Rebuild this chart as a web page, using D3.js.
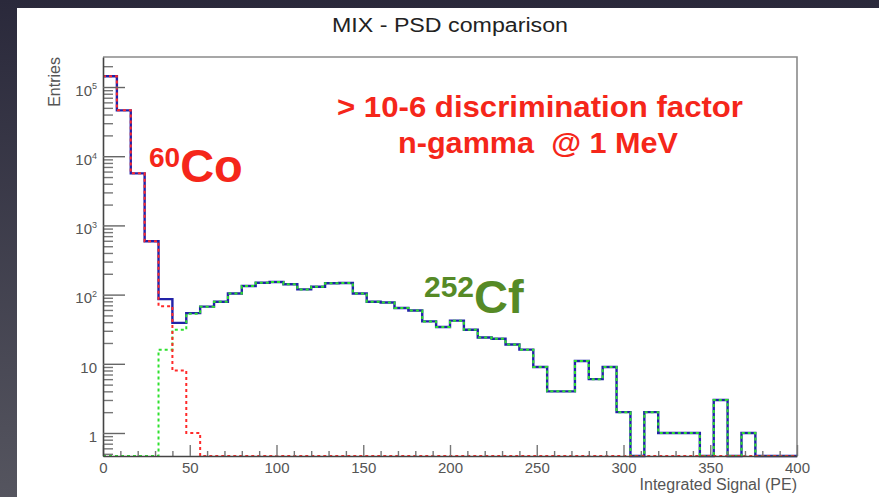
<!DOCTYPE html>
<html>
<head>
<meta charset="utf-8">
<script src="https://cdn.jsdelivr.net/npm/d3@7"></script>
<style>
  html, body { margin: 0; padding: 0; background: #35354a; }
  svg { display: block; }
  text { font-family: "Liberation Sans", Arial, Helvetica, sans-serif; }
</style>
</head>
<body>
<svg id="chart" width="879" height="497"></svg>
<script>
// ---- histogram contents: 50 bins of 8 PE each, from 0 to 400 PE ----
const binWidth = 8;
const xRange = [0, 400];

// MIX source (total)
const mixCounts = [
  143000, 46000, 5650, 590, 86, 39, 54, 67, 79, 104,
  133, 148, 152, 141, 119, 130, 146, 147, 104, 79,
  77, 64, 59, 41, 34, 42, 31, 24, 23, 19,
  16, 9, 4, 4, 11, 6, 9, 2, 0, 2,
  1, 1, 1, 0, 3, 0, 1, 0, 0, 0
];
// 60Co component (gamma)
const co60Counts = [
  143000, 46000, 5650, 590, 68, 8, 1, 0, 0, 0,
  0, 0, 0, 0, 0, 0, 0, 0, 0, 0,
  0, 0, 0, 0, 0, 0, 0, 0, 0, 0,
  0, 0, 0, 0, 0, 0, 0, 0, 0, 0,
  0, 0, 0, 0, 0, 0, 0, 0, 0, 0
];
// 252Cf component (neutron)
const cf252Counts = [
  0, 0, 0, 0, 16, 31, 53, 67, 79, 104,
  133, 148, 152, 141, 119, 130, 146, 147, 104, 79,
  77, 64, 59, 41, 34, 42, 31, 24, 23, 19,
  16, 9, 4, 4, 11, 6, 9, 2, 0, 2,
  1, 1, 1, 0, 3, 0, 1, 0, 0, 0
];

// axis ticks
const xTickValues = [0, 50, 100, 150, 200, 250, 300, 350, 400];
const yTickExponents = [0, 1, 2, 3, 4, 5];
const yDomain = [0.465, 271600];

const titleText = "MIX - PSD comparison";
const xTitle = "Integrated Signal (PE)";
const yTitle = "Entries";
const noteLines = ["> 10-6 discrimination factor", "n-gamma  @ 1 MeV"];

// ---- drawing ----
const svg = d3.select("#chart");
const frame = { left: 103, right: 797, top: 57, bottom: 456 };
const defs = svg.append("defs");

const bg = defs.append("linearGradient")
  .attr("id", "bgGrad").attr("x1", 0).attr("y1", 0).attr("x2", 0).attr("y2", 1);
bg.append("stop").attr("offset", "0%").attr("stop-color", "#2a293b");
bg.append("stop").attr("offset", "100%").attr("stop-color", "#55555f");
svg.append("rect").attr("width", 879).attr("height", 497).attr("fill", "url(#bgGrad)");

// white pad
svg.append("rect").attr("x", 17).attr("y", 8).attr("width", 862).attr("height", 489).attr("fill", "#ffffff");

const x = d3.scaleLinear().domain(xRange).range([frame.left, frame.right]);
const y = d3.scaleLog().domain(yDomain).range([frame.bottom, frame.top]);

defs.append("clipPath").attr("id", "frameClip")
  .append("rect")
  .attr("x", frame.left).attr("y", frame.top - 2)
  .attr("width", frame.right - frame.left + 2)
  .attr("height", frame.bottom - frame.top + 4);

// frame top / right
svg.append("path")
  .attr("d", `M${frame.left},${frame.top}H${frame.right}V${frame.bottom}`)
  .attr("fill", "none").attr("stroke", "#8a8a8a").attr("stroke-width", 1.6);

// step outline of a histogram
function stepPoints(counts) {
  const pts = [];
  counts.forEach((c, i) => {
    const v = Math.max(c, yDomain[0]);
    pts.push([i * binWidth, v], [(i + 1) * binWidth, v]);
  });
  return pts;
}
const stepLine = d3.line().x(d => x(d[0])).y(d => y(d[1]));

const plot = svg.append("g").attr("clip-path", "url(#frameClip)");
plot.append("path").attr("d", stepLine(stepPoints(mixCounts)))
  .attr("fill", "none").attr("stroke", "#2222a8").attr("stroke-width", 2.4);
plot.append("path").attr("d", stepLine(stepPoints(cf252Counts)))
  .attr("fill", "none").attr("stroke", "#2ee02e").attr("stroke-width", 2)
  .attr("stroke-dasharray", "3,3");
plot.append("path").attr("d", stepLine(stepPoints(co60Counts)))
  .attr("fill", "none").attr("stroke", "#ff2a2a").attr("stroke-width", 2)
  .attr("stroke-dasharray", "3,3");

// x axis: ticks pointing up into the frame
const minorX = d3.range(xRange[0], xRange[1] + 1, 10).filter(v => v % 50 !== 0);
svg.append("g").attr("transform", `translate(0,${frame.bottom})`)
  .call(d3.axisBottom(x).tickValues(minorX).tickSizeInner(-5).tickSizeOuter(0).tickFormat(""))
  .call(g => g.select(".domain").remove())
  .call(g => g.selectAll("line").attr("stroke", "#777").attr("stroke-width", 1.4));
const xAxis = svg.append("g").attr("transform", `translate(0,${frame.bottom})`)
  .call(d3.axisBottom(x).tickValues(xTickValues).tickSizeInner(-11).tickSizeOuter(0).tickPadding(6).tickFormat(d3.format("d")));
xAxis.select(".domain").attr("stroke", "#444").attr("stroke-width", 1.6);
xAxis.selectAll("line").attr("stroke", "#777").attr("stroke-width", 1.4);
xAxis.selectAll("text").attr("font-size", 15).attr("fill", "#555")
  .style("font-family", "'Liberation Sans', Arial, sans-serif");

// y axis (log): ticks pointing right into the frame
const minorY = [];
d3.range(-1, 6).forEach(e => { for (let k = 2; k <= 9; k++) minorY.push(k * Math.pow(10, e)); });
svg.append("g").attr("transform", `translate(${frame.left},0)`)
  .call(d3.axisLeft(y).tickValues(minorY.filter(v => v >= yDomain[0] && v <= yDomain[1]))
    .tickSizeInner(-10).tickSizeOuter(0).tickFormat(""))
  .call(g => g.select(".domain").remove())
  .call(g => g.selectAll("line").attr("stroke", "#777").attr("stroke-width", 1.4));
const yAxis = svg.append("g").attr("transform", `translate(${frame.left},0)`)
  .call(d3.axisLeft(y).tickValues(yTickExponents.map(e => Math.pow(10, e)))
    .tickSizeInner(-22).tickSizeOuter(0).tickPadding(6).tickFormat(""));
yAxis.select(".domain").attr("stroke", "#444").attr("stroke-width", 1.6);
yAxis.selectAll("line").attr("stroke", "#666").attr("stroke-width", 1.4);
yAxis.selectAll(".tick").each(function (d, i) {
  const e = yTickExponents[i];
  const t = d3.select(this).select("text")
    .attr("font-size", 15).attr("fill", "#555").attr("dy", "0.55em")
    .style("font-family", "'Liberation Sans', Arial, sans-serif");
  if (e === 0) t.text("1");
  else if (e === 1) t.text("10");
  else {
    t.text(null);
    t.append("tspan").text("10");
    t.append("tspan").attr("font-size", 9).attr("dy", "-0.7em").text(String(e));
  }
});

// titles
svg.append("text").attr("x", 450).attr("y", 32).attr("text-anchor", "middle")
  .attr("font-size", 20).attr("fill", "#222")
  .attr("textLength", 236).attr("lengthAdjust", "spacingAndGlyphs").text(titleText);
svg.append("text").attr("x", frame.right).attr("y", 490).attr("text-anchor", "end")
  .attr("font-size", 16).attr("fill", "#555").text(xTitle);
svg.append("text").attr("transform", `translate(60,${frame.top}) rotate(-90)`)
  .attr("text-anchor", "end").attr("font-size", 16).attr("fill", "#555").text(yTitle);

// annotations
const note = svg.append("text").attr("text-anchor", "middle").attr("font-weight", "bold")
  .attr("font-size", 29).attr("fill", "#f5261a").style("white-space", "pre");
note.append("tspan").attr("x", 540).attr("y", 117)
  .attr("textLength", 406).attr("lengthAdjust", "spacingAndGlyphs").text(noteLines[0]);
note.append("tspan").attr("x", 538).attr("y", 153)
  .attr("textLength", 280).attr("lengthAdjust", "spacingAndGlyphs").text(noteLines[1]);

const co = svg.append("text").attr("x", 149).attr("y", 182).attr("font-weight", "bold").attr("fill", "#f5261a");
co.append("tspan").attr("font-size", 28).attr("dy", "-0.55em").text("60");
co.append("tspan").attr("font-size", 47).attr("dy", "0.328em").text("Co");

const cf = svg.append("text").attr("x", 424).attr("y", 313).attr("font-weight", "bold").attr("fill", "#568a26");
cf.append("tspan").attr("font-size", 30).attr("dy", "-0.55em").text("252");
cf.append("tspan").attr("font-size", 47).attr("dy", "0.351em").text("Cf");
</script>
</body>
</html>
